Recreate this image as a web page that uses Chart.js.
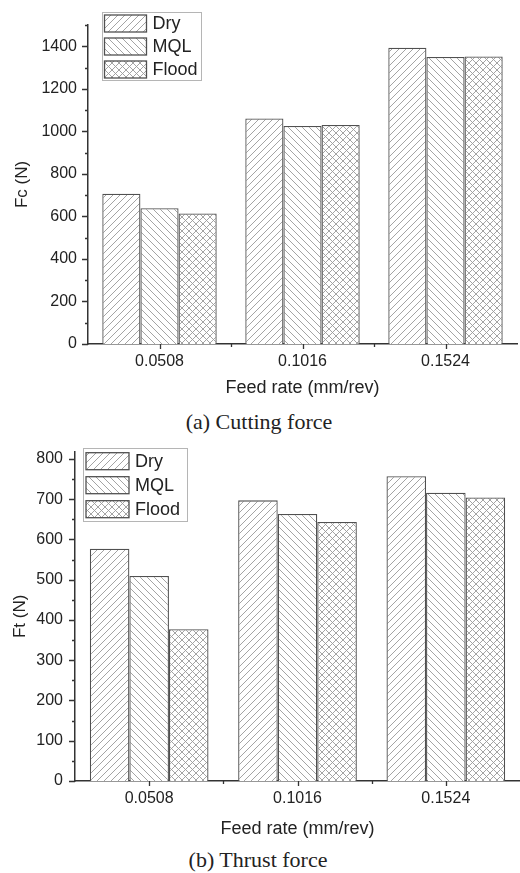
<!DOCTYPE html>
<html>
<head>
<meta charset="utf-8">
<script src="https://cdn.jsdelivr.net/npm/chart.js@4/dist/chart.umd.min.js"></script>
<style>
  html, body { margin: 0; padding: 0; background: #fff; }
  #wrap { position: relative; width: 520px; height: 873px; overflow: hidden; }
  canvas { position: absolute; left: 0; }
  .cap { position: absolute; width: 520px; left: 0; text-align: center;
         font-family: 'Liberation Serif', 'Times New Roman', serif; font-size: 22px;
         color: #222; line-height: 26px; }
</style>
</head>
<body>
<div id="wrap">
  <canvas id="fc" width="520" height="400" style="top:0px"></canvas>
  <div class="cap" style="top:409px; left:-1px">(a) Cutting force</div>
  <canvas id="ft" width="520" height="410" style="top:430px"></canvas>
  <div class="cap" style="top:847px; left:-2px">(b) Thrust force</div>
</div>
<script>
// Feed rates (mm/rev)
const feedRates = ['0.0508', '0.1016', '0.1524'];
const seriesNames = ['Dry', 'MQL', 'Flood'];

// Cutting force Fc (N)
const fcDry   = [707, 1060, 1393];
const fcMQL   = [638, 1025, 1350];
const fcFlood = [614, 1030, 1352];

// Thrust force Ft (N)
const ftDry   = [577, 697, 757];
const ftMQL   = [509, 663, 716];
const ftFlood = [377, 643, 704];

const SANS = "'Liberation Sans', Arial, sans-serif";
const AXIS = '#333';
const INK = '#222';

// Hatch fills: '/' for Dry, '\' for MQL, cross-hatch for Flood
function hatch(ctx, kind) {
  const s = 7;
  const c = document.createElement('canvas');
  c.width = s; c.height = s;
  const g = c.getContext('2d');
  g.fillStyle = '#fff';
  g.fillRect(0, 0, s, s);
  g.strokeStyle = '#9a9a9a';
  g.lineWidth = 0.9;
  g.beginPath();
  if (kind === '/' || kind === 'x') {
    g.moveTo(0, s); g.lineTo(s, 0);
    g.moveTo(-1, 1); g.lineTo(1, -1);
    g.moveTo(s - 1, s + 1); g.lineTo(s + 1, s - 1);
  }
  if (kind === '\\' || kind === 'x') {
    g.moveTo(0, 0); g.lineTo(s, s);
    g.moveTo(-1, s - 1); g.lineTo(1, s + 1);
    g.moveTo(s - 1, -1); g.lineTo(s + 1, 1);
  }
  g.stroke();
  return ctx.createPattern(c, 'repeat');
}

// Outward major/minor tick marks on both axes
const tickMarks = {
  id: 'tickMarks',
  afterDraw(chart) {
    const ctx = chart.ctx;
    const x = chart.scales.x, y = chart.scales.y;
    const area = chart.chartArea;
    ctx.save();
    ctx.strokeStyle = AXIS;
    ctx.lineWidth = 1.3;
    ctx.beginPath();
    const vals = y.ticks.map(t => t.value);
    const step = vals[1] - vals[0];
    vals.forEach(v => {
      const py = Math.round(y.getPixelForValue(v)) + 0.5;
      ctx.moveTo(area.left - 6, py); ctx.lineTo(area.left, py);
      const mv = v + step / 2;
      if (mv <= y.max) {
        const my = Math.round(y.getPixelForValue(mv)) + 0.5;
        ctx.moveTo(area.left - 3, my); ctx.lineTo(area.left, my);
      }
    });
    for (let i = 0; i < chart.data.labels.length; i++) {
      const px = Math.round(x.getPixelForValue(i)) + 0.5;
      ctx.moveTo(px, area.bottom); ctx.lineTo(px, area.bottom + 5);
      if (i > 0) {
        const bx = Math.round((x.getPixelForValue(i - 1) + x.getPixelForValue(i)) / 2) + 0.5;
        ctx.moveTo(bx, area.bottom); ctx.lineTo(bx, area.bottom + 3);
      }
    }
    ctx.stroke();
    ctx.restore();
  }
};

// Boxed legend drawn inside the plot
const boxLegend = {
  id: 'boxLegend',
  afterDraw(chart, args, o) {
    const ctx = chart.ctx;
    const ds = chart.data.datasets;
    ctx.save();
    ctx.fillStyle = '#fff';
    ctx.fillRect(o.x, o.y, o.w, o.h);
    ctx.strokeStyle = '#b5b5b5';
    ctx.lineWidth = 1;
    ctx.strokeRect(o.x + 0.5, o.y + 0.5, o.w, o.h);
    ctx.font = o.fontSize + 'px ' + SANS;
    ctx.textBaseline = 'middle';
    ctx.textAlign = 'left';
    ds.forEach((d, i) => {
      const sy = o.y + o.rowTop + i * o.rowH;
      const sx = o.x + o.swatchX;
      ctx.fillStyle = d.backgroundColor;
      ctx.fillRect(sx, sy, o.swatchW, o.swatchH);
      ctx.strokeStyle = d.borderColor;
      ctx.lineWidth = 1.3;
      ctx.strokeRect(sx, sy, o.swatchW, o.swatchH);
      ctx.fillStyle = INK;
      ctx.fillText(d.label, sx + o.swatchW + o.gap, sy + o.swatchH / 2 + 1);
    });
    ctx.restore();
  }
};

function makeChart(id, cfg) {
  const canvas = document.getElementById(id);
  const ctx = canvas.getContext('2d');
  const fills = [hatch(ctx, '/'), hatch(ctx, '\\'), hatch(ctx, 'x')];
  const data = [cfg.dry, cfg.mql, cfg.flood];
  return new Chart(ctx, {
    type: 'bar',
    data: {
      labels: feedRates,
      datasets: seriesNames.map((name, i) => ({
        label: name,
        data: data[i],
        backgroundColor: fills[i],
        borderColor: '#505050',
        borderWidth: 1.3,
        categoryPercentage: 0.8,
        barPercentage: 1.0
      }))
    },
    options: {
      responsive: false,
      animation: false,
      layout: { padding: cfg.padding },
      plugins: {
        legend: { display: false },
        tooltip: { enabled: false },
        boxLegend: cfg.legend
      },
      scales: {
        x: {
          grid: { display: false, drawTicks: false },
          border: { display: true, color: AXIS, width: 1.5 },
          ticks: { color: INK, font: { family: SANS, size: 16 }, padding: 8, maxRotation: 0 },
          title: { display: true, text: 'Feed rate (mm/rev)', color: INK,
                   font: { family: SANS, size: 18 }, padding: { top: 0, bottom: cfg.xTitlePad } },
          afterFit(s) { s.height = cfg.xHeight; }
        },
        y: {
          min: 0,
          max: cfg.max,
          grid: { display: false, drawTicks: false },
          border: { display: true, color: AXIS, width: 1.5 },
          ticks: { stepSize: cfg.step, includeBounds: false, color: INK,
                   font: { family: SANS, size: 16 }, padding: cfg.yTickPad,
                   callback: v => String(v) },
          title: { display: true, text: cfg.yTitle, color: INK,
                   font: { family: SANS, size: 17 }, padding: { top: cfg.yTitlePad, bottom: 0 } },
          afterFit(s) { s.width = cfg.yWidth; }
        }
      }
    },
    plugins: [tickMarks, boxLegend]
  });
}

makeChart('fc', {
  dry: fcDry, mql: fcMQL, flood: fcFlood,
  max: 1500, step: 200, yTitle: 'Fc (N)',
  padding: { top: 25, right: 3, bottom: 0, left: 0 },
  xHeight: 56, xTitlePad: 1, yWidth: 88, yTickPad: 11, yTitlePad: 12,
  legend: { x: 102, y: 12, w: 99, h: 68, swatchX: 2.5, rowTop: 3, rowH: 23,
            swatchW: 42, swatchH: 17, gap: 6, fontSize: 18 }
});

makeChart('ft', {
  dry: ftDry, mql: ftMQL, flood: ftFlood,
  max: 818, step: 100, yTitle: 'Ft (N)',
  padding: { top: 20, right: 0, bottom: 0, left: 0 },
  xHeight: 59, xTitlePad: 0, yWidth: 75, yTickPad: 12, yTitlePad: 10,
  legend: { x: 83, y: 18, w: 104, h: 73, swatchX: 3, rowTop: 4.7, rowH: 24,
            swatchW: 43, swatchH: 17, gap: 6, fontSize: 18 }
});
</script>
</body>
</html>
